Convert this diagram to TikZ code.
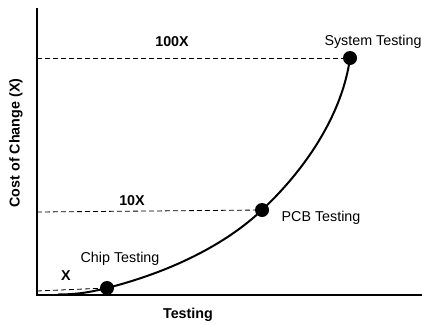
\documentclass[tikz,border=0pt]{standalone}
\usepackage{fontspec}
\setmainfont{Liberation Sans}
\begin{document}
\begin{tikzpicture}[x=1pt,y=-1pt,
  axisline/.style={line width=2pt},
  guide/.style={line width=0.8pt,dash pattern=on 5pt off 3pt},
  costcurve/.style={line width=2pt},
  stage/.style={circle,fill=black,inner sep=0pt,minimum size=14pt},
  lbl/.style={font=\fontsize{14.3}{17}\selectfont,inner sep=0pt},
  blbl/.style={font=\fontsize{14.3}{17}\selectfont\bfseries,inner sep=0pt}]
\useasboundingbox (0,0) rectangle (422,324);
% axes
\coordinate (ytop) at (37,8);
\coordinate (origin) at (37,295);
\coordinate (xend) at (422,295);
\draw[axisline] (ytop) -- (origin) -- (xend);
% testing stages
\node[stage] (chip) at (107,288) {};
\node[stage] (pcb) at (262,210) {};
\node[stage] (sys) at (350,58) {};
% cost levels
\coordinate (yx) at (37,291);
\coordinate (y10) at (37,212);
\coordinate (y100) at (37,58);
\draw[guide] (yx) -- (chip.center);
\draw[guide] (y10) -- (pcb.center);
\draw[guide] (y100) -- (sys.center);
% cost curve
\coordinate (start) at (58,294.5);
\draw[costcurve] (start) .. controls (80,294.5) and (95,291) .. (chip.center)
  .. controls (170,272) and (225,245) .. (pcb.center)
  .. controls (310,165) and (343,110) .. (sys.center);
% labels
\node[blbl] (l100) at (172,42) {100X};
\node[blbl] (l10) at (132,201) {10X};
\node[blbl] (l1) at (66,276) {X};
\node[lbl] (tchip) at (120,259) {Chip Testing};
\node[lbl] (tpcb) at (321,218) {PCB Testing};
\node[lbl] (tsys) at (373,42) {System Testing};
\node[blbl] (xlab) at (188,315) {Testing};
\node[blbl,rotate=90] (ylab) at (16,143) {Cost of Change (X)};
\end{tikzpicture}
\end{document}
